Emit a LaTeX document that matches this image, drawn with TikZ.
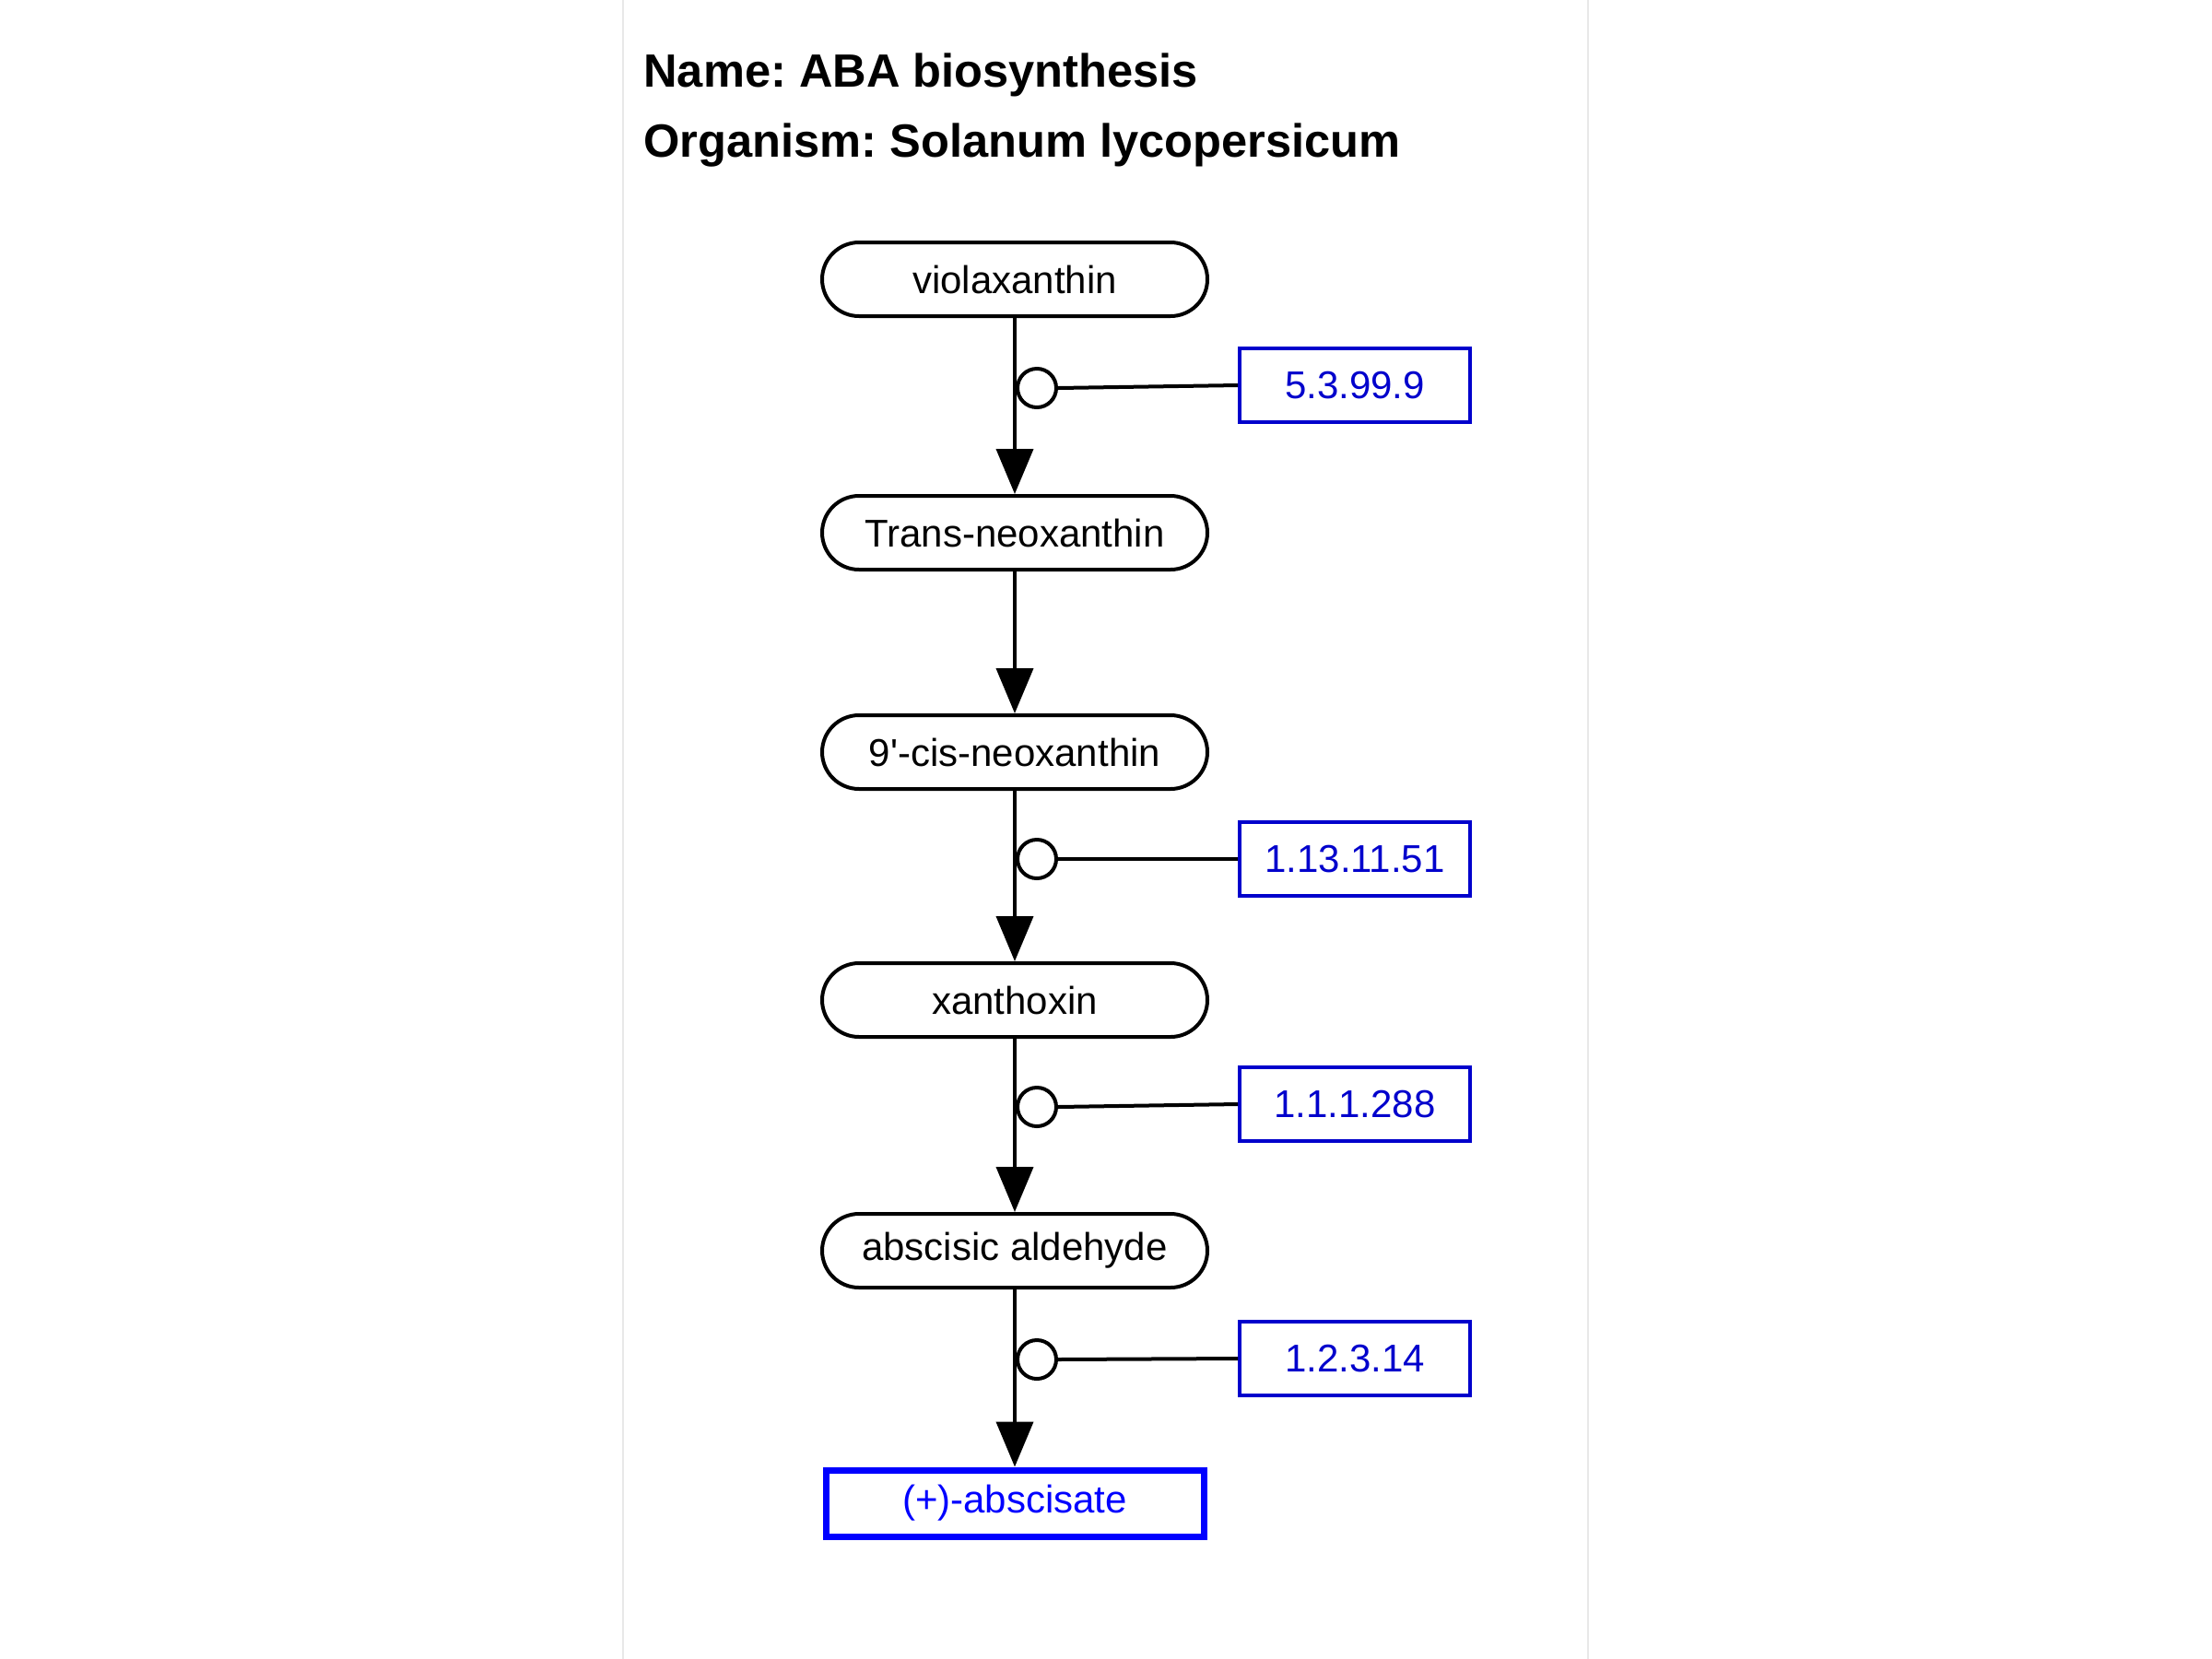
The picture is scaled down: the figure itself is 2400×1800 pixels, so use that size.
\documentclass[tikz,border=0pt]{standalone}
\usepackage{fontspec}
\setmainfont{Liberation Sans}
\newfontfamily\plainsans{Liberation Sans}
\usetikzlibrary{arrows.meta}
\definecolor{enzblue}{RGB}{0,0,204}
\definecolor{prodblue}{RGB}{0,0,255}
\definecolor{framegray}{RGB}{232,232,232}
\begin{document}
\frenchspacing
\begin{tikzpicture}[x=0.5pt,y=-0.5pt,
  met/.style={draw, line width=2pt, rounded corners=20pt, minimum width=209pt, minimum height=40pt, inner sep=0pt, font=\plainsans\fontsize{21pt}{25pt}\selectfont},
  enz/.style={draw=enzblue, line width=1.8pt, minimum width=125pt, minimum height=40pt, inner sep=0pt, text=enzblue, font=\plainsans\fontsize{21pt}{25pt}\selectfont},
  prod/.style={draw=prodblue, line width=3.5pt, minimum width=205pt, minimum height=36pt, inner sep=0pt, text=prodblue, font=\plainsans\fontsize{21pt}{25pt}\selectfont},
  circ/.style={draw, circle, line width=2pt, fill=white, minimum size=21pt, inner sep=0pt},
  flow/.style={line width=2pt, -{Triangle[width=20pt,length=24.5pt]}},
  link/.style={line width=2pt},
  title/.style={anchor=base west, inner sep=0pt, font=\plainsans\fontsize{25.3pt}{30pt}\selectfont\bfseries}
]
\useasboundingbox (0,0) rectangle (2400,1800);
\fill[white] (0,0) rectangle (2400,1800);
\draw[framegray, line width=1pt] (676,0) -- (676,1800);
\draw[framegray, line width=1pt] (1723,0) -- (1723,1800);

\node[title] (t1) at (698,94) {Name: ABA biosynthesis};
\node[title] (t2) at (698,170) {Organism: Solanum lycopersicum};

\node[met] (v) at (1101,303) {violaxanthin};
\node[met] (tn) at (1101,578) {Trans-neoxanthin};
\node[met] (cn) at (1101,816) {9'-cis-neoxanthin};
\node[met] (x) at (1101,1085) {xanthoxin};
\node[met] (aa) at (1101,1357) {abscisic aldehyde};
\node[prod] (ab) at (1101,1631) {(+)-abscisate};

\draw[flow] (v.south) -- (tn.north);
\draw[flow] (tn.south) -- (cn.north);
\draw[flow] (cn.south) -- (x.north);
\draw[flow] (x.south) -- (aa.north);
\draw[flow] (aa.south) -- (ab.north);

\node[enz] (e1) at (1470,418) {5.3.99.9};
\node[enz] (e2) at (1470,932) {1.13.11.51};
\node[enz] (e3) at (1470,1198) {1.1.1.288};
\node[enz] (e4) at (1470,1474) {1.2.3.14};

\node[circ] (c1) at (1125,421) {};
\node[circ] (c2) at (1125,932) {};
\node[circ] (c3) at (1125,1201) {};
\node[circ] (c4) at (1125,1475) {};

\draw[link] (c1.east) -- (e1.west);
\draw[link] (c2.east) -- (e2.west);
\draw[link] (c3.east) -- (e3.west);
\draw[link] (c4.east) -- (e4.west);
\end{tikzpicture}
\end{document}
